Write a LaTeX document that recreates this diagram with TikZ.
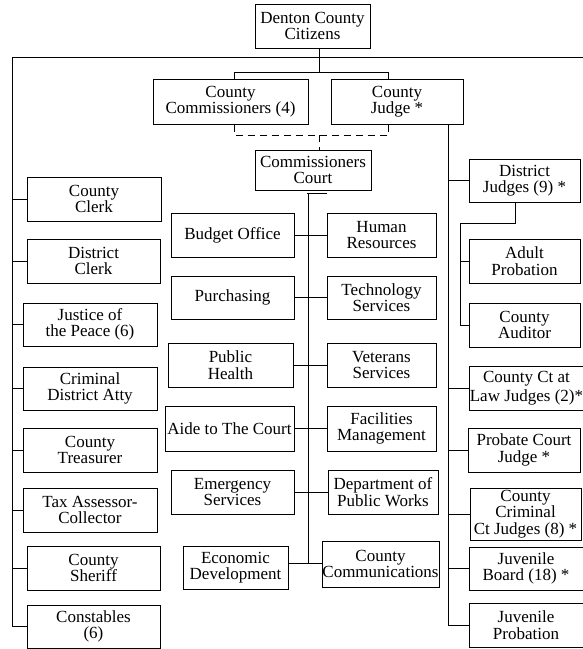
\documentclass[tikz,border=0pt]{standalone}
\usepackage{fontspec}
\setmainfont{Liberation Serif}
\newcommand\obox[6]{%
  \pgfmathsetmacro\obw{#4-#2}\pgfmathsetmacro\obh{#5-#3}%
  \node[box, minimum width=\obw pt, minimum height=\obh pt] (#1) at ({(#2+#4)/2},{(#3+#5)/2}) {#6};}
\begin{document}
\begin{tikzpicture}[x=1pt,y=-1pt,
  box/.style={draw, line width=1pt, inner sep=0pt, align=center, font=\fontsize{17}{16.5}\selectfont},
  ln/.style={line width=1pt},
  dsh/.style={line width=1pt, dash pattern=on 7pt off 5pt}]
\useasboundingbox (0,0) rectangle (583,649);
% top
\obox{denton}{255}{4}{370}{48}{Denton County\\Citizens}
\obox{commis}{153}{79}{308}{124}{County\\Commissioners (4)}
\obox{judge}{331}{79}{463}{124}{County\\Judge *}
\obox{court}{255}{150}{371}{190}{Commissioners\\Court}
% left column
\obox{cclerk}{27}{177}{161}{221}{County\\Clerk}
\obox{dclerk}{27}{239}{160}{283}{District\\Clerk}
\obox{jp}{23}{303}{157}{346}{Justice of\\the Peace (6)}
\obox{cda}{23}{367}{157}{410}{Criminal\\District Atty}
\obox{treas}{23}{428}{157}{472}{County\\Treasurer}
\obox{tax}{23}{488}{157}{532}{Tax Assessor-\\Collector}
\obox{sheriff}{27}{546}{160}{590}{County\\Sheriff}
\obox{const}{27}{605}{160}{648}{Constables\\(6)}
% middle
\obox{budget}{171}{213}{294}{257}{Budget Office}
\obox{hr}{327}{213}{436}{257}{Human\\Resources}
\obox{purch}{171}{276}{294}{319}{Purchasing}
\obox{tech}{327}{276}{436}{319}{Technology\\Services}
\obox{health}{168}{343}{293}{387}{Public\\Health}
\obox{vet}{327}{343}{436}{387}{Veterans\\Services}
\obox{aide}{165}{406}{294}{451}{Aide to The Court}
\obox{fac}{327}{406}{436}{451}{Facilities\\Management}
\obox{emerg}{171}{470}{294}{514}{Emergency\\Services}
\obox{dpw}{328}{470}{438}{514}{Department of\\Public Works}
\obox{econ}{183}{546}{288}{589}{Economic\\Development}
\obox{comm}{322}{541}{439}{587}{County\\Communications}
% right column
\obox{dj}{469}{159}{580}{202}{District\\Judges (9) *}
\obox{adult}{469}{239}{580}{283}{Adult\\Probation}
\obox{aud}{469}{303}{580}{347}{County\\Auditor}
\obox{ccl}{469}{366}{584}{410}{County Ct at\\[2pt]Law Judges (2)*}
\obox{prob}{468}{428}{580}{472}{Probate Court\\Judge *}
\obox{crim}{470}{488}{581}{540}{\fontsize{17}{15.5}\selectfont County\\Criminal\\Ct Judges (8) *}
\obox{juvb}{469}{547}{583}{590}{Juvenile\\Board (18) *}
\obox{juvp}{469}{603}{583}{647}{Juvenile\\Probation}
% coordinates
\coordinate (L) at (12,57);
\coordinate (R) at (584,57);
\coordinate (stem) at (319,72);
\coordinate (bl) at (234,72);
\coordinate (br) at (388,72);
\coordinate (dl) at (234,135);
\coordinate (dr) at (388,135);
\coordinate (dm) at (319,135);
\coordinate (tee) at (308,193);
\coordinate (teel) at (307,193);
\coordinate (teer) at (327,193);
\coordinate (spend) at (308,563);
\coordinate (RS) at (448,124);
\coordinate (djb) at (515,223);
\coordinate (sub) at (460,223);
% top connectors
\draw[ln] (denton.south -| stem) -- (stem);
\draw[ln] (L) -- (R);
\draw[ln] (bl) -- (br);
\draw[ln] (bl) -- (commis.north -| bl);
\draw[ln] (br) -- (judge.north -| br);
\draw[dsh] (commis.south -| dl) -- (dl) -- (dr) -- (judge.south -| dr);
\draw[dsh] (dm) -- (court.north -| dm);
% left spine
\draw[ln] (L) |- (const.west);
\foreach \n in {cclerk,dclerk,jp,cda,treas,tax,sheriff}
  \draw[ln] (\n.west) -- (\n.west -| L);
% middle spine
\draw[ln] (teel) -- (teer);
\draw[ln] (tee) -- (spend);
\foreach \a/\b in {budget/hr,purch/tech,health/vet,aide/fac,emerg/dpw}
  \draw[ln] (\a.east) -- (\b.west -| \a.east) -- (\b.west);
\draw[ln] (spend -| econ.east) -- (spend -| comm.west);
% right spine
\draw[ln] (RS) |- (juvp.west);
\foreach \n in {dj,ccl,prob,crim,juvb}
  \draw[ln] (\n.west) -- (\n.west -| RS);
\draw[ln] (dj.south -| djb) -- (djb) -- (sub) |- (aud.west);
\draw[ln] (adult.west) -- (adult.west -| sub);
\end{tikzpicture}
\end{document}
